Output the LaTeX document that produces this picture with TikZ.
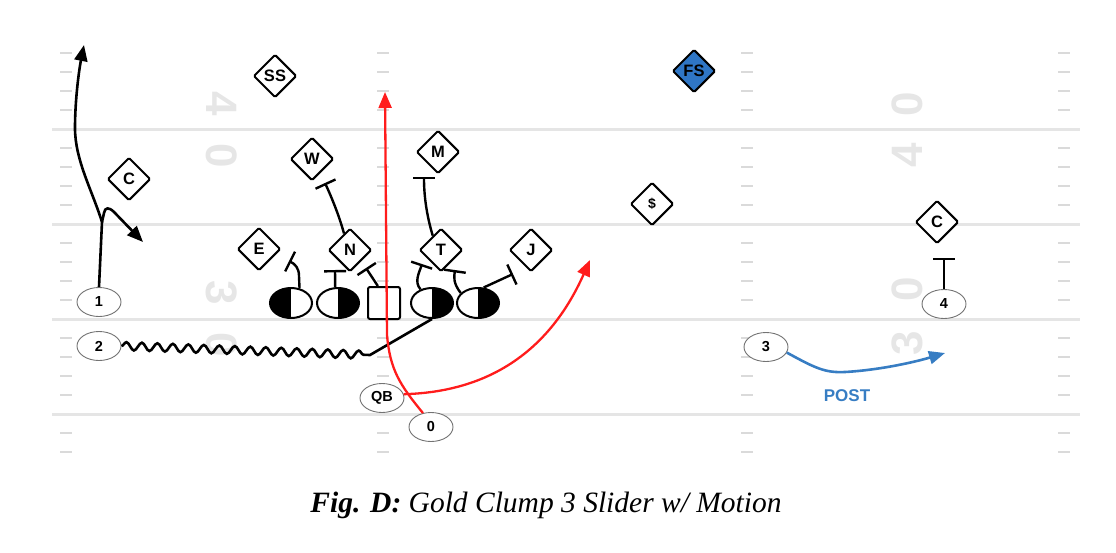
\documentclass[tikz,border=0pt]{standalone}
\usepackage{fontspec}
\setmainfont{Liberation Serif}
\setsansfont{Liberation Sans}
\usetikzlibrary{shapes.geometric,arrows.meta,decorations.pathmorphing}

\definecolor{fieldgray}{RGB}{229,229,229}
\definecolor{hashgray}{RGB}{218,218,218}
\definecolor{numgray}{RGB}{230,230,230}
\definecolor{fsblue}{RGB}{47,118,197}
\definecolor{postblue}{RGB}{55,125,195}
\definecolor{routered}{RGB}{255,28,28}

\tikzset{
  def/.style={diamond, draw=black, line width=2pt, fill=white, minimum width=43pt,
    minimum height=43pt, inner sep=0pt, rounded corners=1.5pt,
    font=\fontsize{16.5}{16.5}\selectfont\sffamily\bfseries},
  off/.style={ellipse, draw=black!55, line width=0.9pt, fill=white, minimum width=44pt,
    minimum height=29pt, inner sep=0pt, font=\fontsize{14.5}{14.5}\selectfont\sffamily\bfseries},
  olleft/.style={ellipse, draw=black, line width=2pt, fill=white, minimum width=42pt,
    minimum height=30pt, inner sep=0pt,
    path picture={\fill[black] (path picture bounding box.north west) rectangle (path picture bounding box.south);}},
  olright/.style={ellipse, draw=black, line width=2pt, fill=white, minimum width=42pt,
    minimum height=30pt, inner sep=0pt,
    path picture={\fill[black] (path picture bounding box.north east) rectangle (path picture bounding box.south);}},
  ctr/.style={rectangle, draw=black, line width=2pt, fill=white, minimum size=32pt, rounded corners=2pt},
  route/.style={line width=2.6pt, -{Triangle[length=16pt,width=13pt]}},
  redroute/.style={route, draw=routered, line width=2.3pt},
  block/.style={line width=2.4pt, -{Bar[width=22pt]}},
  motion/.style={line width=2.6pt},
  yardnum/.style={text=numgray, font=\fontsize{44}{44}\selectfont\sffamily\bfseries},
}

\begin{document}
\begin{tikzpicture}[x=1pt,y=-1pt]
\useasboundingbox (0,0) rectangle (1116,552);

% field
\foreach \y in {129,224,319,414}
  \draw[fieldgray, line width=3pt] (52,\y) -- (1080,\y);
\foreach \i in {0,1,2,3,5,6,7,8,10,11,12,13,15,16,17,18,20,21}
  \foreach \x in {66,383,747,1064}
    \draw[hashgray, line width=2.5pt] (\x-6,53+19*\i) -- (\x+6,53+19*\i);

\node[yardnum, rotate=-90] (n4a) at (222,104) {4};
\node[yardnum, rotate=-90] (n0a) at (222,156) {0};
\node[yardnum, rotate=-90] (n3a) at (222,293) {3};
\node[yardnum, rotate=-90] (n0b) at (222,345) {0};
\node[yardnum, rotate=90] (n0c) at (907,104) {0};
\node[yardnum, rotate=90] (n4b) at (907,155) {4};
\node[yardnum, rotate=90] (n0d) at (907,289) {0};
\node[yardnum, rotate=90] (n3b) at (907,343) {3};

% defense
\node[def] (ss) at (275,76) {SS};
\node[def, fill=fsblue] (fs) at (694,71) {FS};
\node[def] (cl) at (129,179) {C};
\node[def] (w) at (312,159) {W};
\node[def] (m) at (438,152) {M};
\node[def, font=\fontsize{14}{14}\selectfont\sffamily\bfseries] (dol) at (652,204) {\$};
\node[def] (cr) at (937,222) {C};
\node[def] (e) at (259,249) {E};
\node[def] (n) at (350,250) {N};
\node[def] (t) at (441,250) {T};
\node[def] (j) at (531,250) {J};

% offense
\node[olleft] (lt) at (291,303) {};
\node[olright] (lg) at (338,303) {};
\node[ctr] (c) at (384,303) {};
\node[olright] (rg) at (432,303) {};
\node[olright] (rt) at (478,303) {};

\node[off] (r1) at (99,302) {1};
\node[off] (r2) at (99,346) {2};
\node[off] (qb) at (382,398) {QB};
\node[off] (zero) at (431,427) {0};
\node[off] (r3) at (766,347) {3};
\node[off] (r4) at (944,304) {4};

% blocks
\draw[block] (lt.60) -- (299,276) .. controls (299,268) and (295,264) .. (289,261);
\draw[block] (lg.100) -- (335,270);
\draw[block] (c.110) -- (366,268);
\draw[block] (rg.130) .. controls (414,282) and (419,273) .. (422,264);
\draw[block] (rt.150) .. controls (453,283) and (454,277) .. (455,270);
\draw[block] (rt.70) -- (513,274);
\draw[block] (n.110) .. controls (339,215) and (331,196) .. (325,183);
\draw[block] (t.120) .. controls (428,220) and (424,200) .. (424,177);
\draw[block] (r4.north) -- (944,258);

% routes
\coordinate (brk) at (102,222);
\draw[route] (r1.north) -- (brk) .. controls (92,190) and (75,160) .. (75,128)
  .. controls (75,100) and (79,70) .. (84,45);
\draw[route] (brk) -- (104,213) .. controls (105,207) and (109,207) .. (114,212) -- (143,242);
\draw[motion] (r2.east) decorate[decoration={snake, segment length=15.5pt, amplitude=4pt}] {-- (370,355)}
  -- (rg.south);
\draw[redroute] (zero.120) .. controls (400,385) and (390,370) .. (387,335) -- (385,92);
\draw[redroute] (qb.10) .. controls (490,392) and (550,350) .. (590,260);
\draw[route, draw=postblue] (r3.-15) .. controls (815,368) and (825,373) .. (845,372)
  .. controls (880,370) and (915,362) .. (945,353);
\node[text=postblue, font=\fontsize{17}{17}\selectfont\sffamily\bfseries] (post) at (847,396) {POST};

% caption
\node (cap) at (546,505) {\fontsize{29.5}{29.5}\selectfont\itshape\textbf{Fig. D:} Gold Clump 3 Slider w/ Motion};

\end{tikzpicture}
\end{document}
